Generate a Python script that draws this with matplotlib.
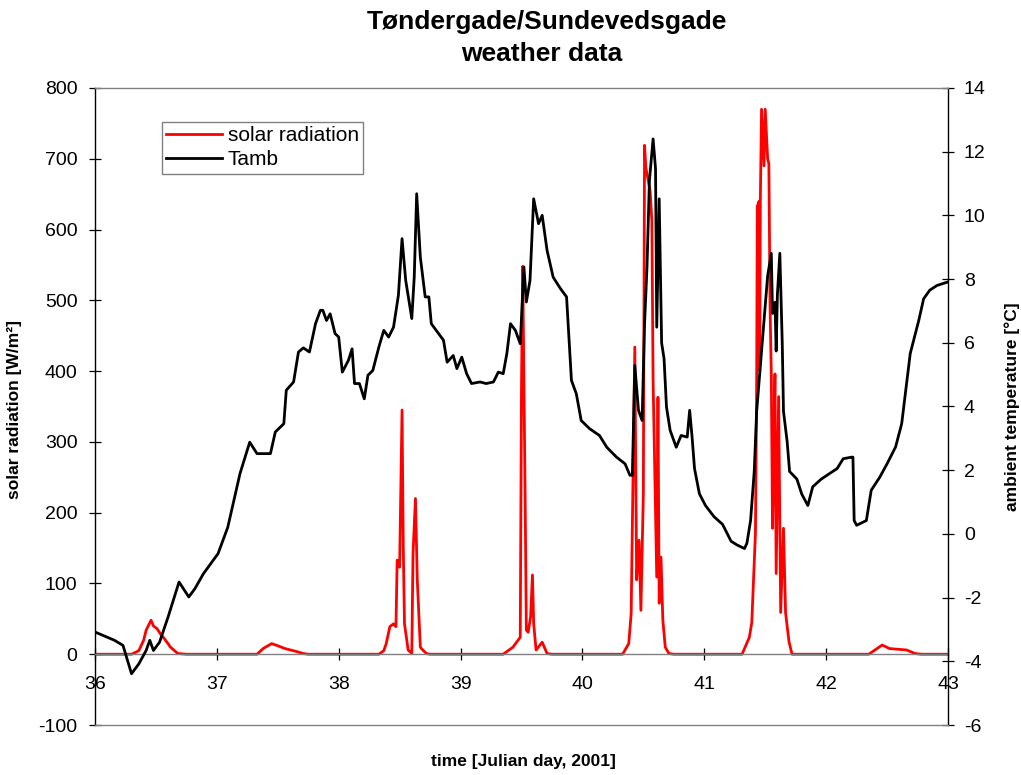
import matplotlib
matplotlib.use("Agg")
import matplotlib.pyplot

matplotlib.rcParams["font.family"] = ["Liberation Sans", "DejaVu Sans"]
matplotlib.rcParams["axes.unicode_minus"] = False

# ambient temperature [degC] against julian day
tamb_day = [36.00, 36.16, 36.23, 36.30, 36.36, 36.42, 36.45, 36.48, 36.53, 36.60,
            36.66, 36.69, 36.77, 36.82, 36.89, 37.01, 37.09, 37.19, 37.27, 37.33,
            37.44, 37.48, 37.55, 37.57, 37.63, 37.67, 37.71, 37.76, 37.81, 37.85,
            37.87, 37.90, 37.93, 37.97, 38.00, 38.03, 38.08, 38.11, 38.13, 38.17,
            38.21, 38.24, 38.28, 38.33, 38.37, 38.41, 38.45, 38.49, 38.52, 38.55,
            38.60, 38.62, 38.64, 38.67, 38.71, 38.74, 38.76, 38.80, 38.86, 38.89,
            38.94, 38.97, 39.01, 39.05, 39.09, 39.16, 39.21, 39.27, 39.31, 39.35,
            39.38, 39.41, 39.45, 39.49, 39.52, 39.54, 39.57, 39.60, 39.64, 39.67,
            39.71, 39.76, 39.82, 39.87, 39.91, 39.95, 39.99, 40.06, 40.14, 40.20,
            40.28, 40.35, 40.39, 40.41, 40.43, 40.46, 40.49, 40.51, 40.53, 40.55,
            40.58, 40.60, 40.61, 40.63, 40.65, 40.67, 40.69, 40.72, 40.77, 40.81,
            40.86, 40.88, 40.90, 40.92, 40.96, 41.01, 41.08, 41.15, 41.22, 41.27,
            41.33, 41.35, 41.38, 41.41, 41.43, 41.46, 41.49, 41.52, 41.55, 41.56,
            41.58, 41.59, 41.60, 41.62, 41.64, 41.65, 41.68, 41.70, 41.76, 41.80,
            41.85, 41.89, 41.96, 42.03, 42.09, 42.14, 42.21, 42.22, 42.23, 42.25,
            42.33, 42.37, 42.44, 42.50, 42.57, 42.62, 42.65, 42.69, 42.76, 42.80,
            42.85, 42.91, 43.00]
tamb = [-3.08, -3.34, -3.50, -4.39, -4.08, -3.66, -3.34, -3.66, -3.40, -2.61,
        -1.88, -1.51, -1.98, -1.72, -1.25, -0.62, 0.21, 1.89, 2.88, 2.52,
        2.52, 3.20, 3.46, 4.51, 4.77, 5.71, 5.84, 5.71, 6.60, 7.02,
        7.02, 6.70, 6.91, 6.29, 6.18, 5.08, 5.45, 5.81, 4.72, 4.72,
        4.24, 4.98, 5.13, 5.87, 6.39, 6.18, 6.49, 7.49, 9.27, 7.96,
        6.76, 8.06, 10.68, 8.69, 7.44, 7.44, 6.60, 6.39, 6.08, 5.39,
        5.60, 5.19, 5.55, 5.03, 4.72, 4.77, 4.72, 4.77, 5.08, 5.03,
        5.66, 6.60, 6.39, 5.97, 8.38, 7.28, 7.96, 10.52, 9.74, 10.00,
        8.90, 8.06, 7.70, 7.44, 4.82, 4.40, 3.56, 3.30, 3.09, 2.72,
        2.41, 2.20, 1.84, 1.84, 5.29, 3.88, 3.56, 6.60, 8.38, 11.10,
        12.40, 11.47, 6.49, 10.52, 6.00, 5.50, 3.98, 3.25, 2.72, 3.09,
        3.04, 3.88, 3.04, 2.05, 1.26, 0.89, 0.54, 0.30, -0.23, -0.35,
        -0.46, -0.29, 0.42, 1.96, 3.85, 5.27, 6.68, 8.10, 8.81, 6.92,
        7.27, 5.74, 7.51, 8.81, 5.97, 3.85, 2.90, 1.96, 1.72, 1.25,
        0.89, 1.48, 1.72, 1.90, 2.05, 2.36, 2.41, 2.41, 0.42, 0.27,
        0.42, 1.37, 1.78, 2.20, 2.73, 3.46, 4.40, 5.66, 6.70, 7.38,
        7.65, 7.80, 7.91]

# global solar radiation [W/m2] against julian day
solar_day = [36.00, 36.30, 36.36, 36.40, 36.42, 36.46, 36.48, 36.51, 36.54, 36.57,
             36.62, 36.68, 36.75, 37.33, 37.38, 37.45, 37.50, 37.56, 37.65, 37.71,
             37.75, 38.33, 38.37, 38.39, 38.42, 38.45, 38.47, 38.48, 38.50, 38.52,
             38.53, 38.54, 38.57, 38.60, 38.61, 38.63, 38.645, 38.67, 38.69, 38.72,
             38.75, 39.35, 39.43, 39.49, 39.50, 39.51, 39.53, 39.54, 39.555, 39.575,
             39.59, 39.60, 39.62, 39.67, 39.71, 39.75, 40.33, 40.38, 40.40, 40.43,
             40.445, 40.465, 40.48, 40.50, 40.51, 40.52, 40.555, 40.57, 40.58, 40.61,
             40.62, 40.63, 40.645, 40.66, 40.68, 40.71, 40.75, 41.31, 41.37, 41.39,
             41.42, 41.43, 41.435, 41.45, 41.455, 41.46, 41.47, 41.49, 41.50, 41.52,
             41.53, 41.54, 41.55, 41.56, 41.57, 41.58, 41.59, 41.61, 41.627, 41.65,
             41.667, 41.695, 41.72, 42.35, 42.46, 42.52, 42.66, 42.73, 42.78, 43.00]
solar = [0, 0, 5, 20, 34, 48, 40, 36, 28, 22,
         10, 1, 0, 0, 8, 15, 12, 8, 4, 1,
         0, 0, 5, 15, 39, 43, 39, 133, 123, 345,
         152, 43, 6, 1, 142, 220, 105, 10, 6, 1,
         0, 0, 10, 24, 373, 548, 222, 34, 31, 53,
         112, 43, 6, 17, 1, 0, 0, 15, 57, 434,
         105, 161, 62, 227, 719, 688, 655, 613, 387, 109,
         363, 72, 137, 48, 10, 1, 0, 0, 24, 45,
         172, 386, 633, 640, 400, 640, 770, 690, 770, 700,
         693, 490, 396, 178, 275, 396, 114, 364, 59, 178,
         59, 18, 0, 0, 13, 8, 6, 1, 0, 0]

gray = "#808080"

figure = matplotlib.pyplot.figure(figsize=(10.21, 7.75), dpi=100)
axis = figure.add_axes([0.093, 0.0645, 0.8355, 0.822])
axis2 = axis.twinx()

red_line, = axis.plot(solar_day, solar, color="red", linewidth=2.0, label="solar radiation")
black_line, = axis2.plot(tamb_day, tamb, color="black", linewidth=2.0, label="Tamb")

axis.set_xlim(36, 43)
axis.set_ylim(-100, 800)
axis2.set_ylim(-6, 14)
axis.set_xticks(range(36, 44))
axis.set_yticks(range(-100, 801, 100))
axis2.set_yticks(range(-6, 15, 2))

# horizontal axis crosses at zero radiation
axis.spines["bottom"].set_position(("data", 0))
axis.spines["bottom"].set_color(gray)
axis.spines["top"].set_visible(False)
axis.spines["right"].set_visible(False)
axis.spines["left"].set_color("black")
axis2.spines["left"].set_visible(False)
axis2.spines["bottom"].set_color(gray)
axis2.spines["top"].set_color(gray)
axis2.spines["right"].set_color("black")
for spine in list(axis.spines.values()) + list(axis2.spines.values()):
    spine.set_linewidth(1.0)

axis.tick_params(axis="both", direction="inout", length=9, width=0.9, labelsize=14, color="black")
axis.tick_params(axis="x", pad=11)
axis.tick_params(axis="y", pad=8)
axis2.tick_params(axis="y", direction="inout", length=9, width=0.9, labelsize=14, pad=7)

axis.set_xlabel("time [Julian day, 2001]", fontsize=12.5, fontweight="bold")
axis.xaxis.set_label_coords(0.502, -0.046)
axis.set_ylabel("solar radiation [W/m²]", fontsize=12.5, fontweight="bold")
axis.yaxis.set_label_coords(-0.085, 0.495)
axis2.set_ylabel("ambient temperature [°C]", fontsize=12.5, fontweight="bold")
axis2.yaxis.set_label_coords(1.066, 0.499)

figure.text(0.536, 1 - 29 / 775, "Tøndergade/Sundevedsgade", ha="center", va="baseline",
            fontsize=19, fontweight="bold")
figure.text(0.531, 1 - 61 / 775, "weather data", ha="center", va="baseline",
            fontsize=19, fontweight="bold")

legend = axis2.legend(handles=[red_line, black_line], loc="upper left",
                      bbox_to_anchor=(0.0785, 0.9466), borderaxespad=0, fontsize=15,
                      fancybox=False, framealpha=1, edgecolor=gray, borderpad=0.2,
                      labelspacing=0.25, handlelength=2.7, handletextpad=0.25)
legend.get_frame().set_linewidth(1.0)

figure.savefig("out.png", dpi=100)
